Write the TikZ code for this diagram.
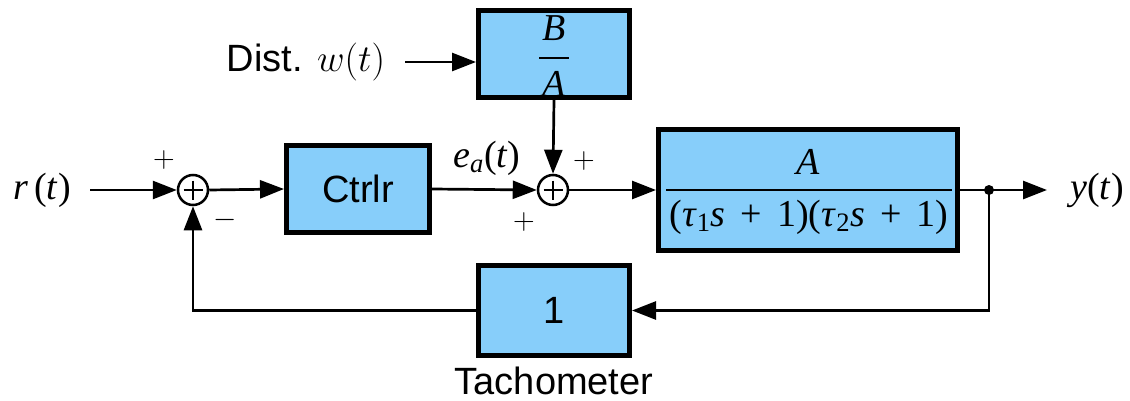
\documentclass[tikz,border=0pt]{standalone}
\usepackage{fix-cm}
\usepackage{fontspec}
\setmainfont{Liberation Sans}
\newfontfamily\tms{Liberation Serif}
\usetikzlibrary{arrows.meta,calc}
\definecolor{boxblue}{HTML}{87CEFA}
\begin{document}
\begin{tikzpicture}[x=1pt,y=-1pt,
  blk/.style={draw, line width=5pt, fill=boxblue, inner sep=0pt},
  sumc/.style={draw, circle, line width=2.5pt, minimum size=30pt, inner sep=0pt, fill=white,
    path picture={\draw[line width=1.4pt] ($(path picture bounding box.center)+(-9.5,0)$) -- ($(path picture bounding box.center)+(9.5,0)$);
                  \draw[line width=1.4pt] ($(path picture bounding box.center)+(0,-9.5)$) -- ($(path picture bounding box.center)+(0,9.5)$);}},
  arr/.style={line width=2.7pt, -{Triangle[length=24pt,width=18pt]}},
  ln/.style={line width=2.7pt},
  big/.style={font=\fontsize{38}{44}\selectfont, inner sep=0pt},
  mth/.style={font=\fontsize{38}{44}\selectfont\tms, inner sep=0pt},
  sgn/.style={font=\fontsize{30}{36}\selectfont, inner sep=0pt}]
\useasboundingbox (0,0) rectangle (1130,401);

% blocks
\node[blk, minimum width=151pt, minimum height=87pt] (ba) at (554,54) {};
\node[mth] (baB) at (554,28) {\textit{B}};
\node[mth] (baA) at (554,84) {\textit{A}};
\draw[line width=2.5pt] ($(ba.center)+(-15,4)$) -- ($(ba.center)+(15,4)$);

\node[blk, minimum width=143pt, minimum height=87pt, big] (ctrl) at (358,189) {Ctrlr};

\node[blk, minimum width=299pt, minimum height=121pt] (plant) at (808,190) {};
\node[mth] (plN) at (808,162) {\textit{A}};
\node[mth] (plD) at (809,217) {(\textit{τ}\textsubscript{1}\textit{s}\hspace{0.4em}+\hspace{0.4em}1)(\textit{τ}\textsubscript{2}\textit{s}\hspace{0.4em}+\hspace{0.4em}1)};
\draw[line width=2.7pt] ($(plant.center)+(-142,0)$) -- ($(plant.center)+(144,0)$);

\node[blk, minimum width=151pt, minimum height=90pt, big] (tach) at (554,310.5) {1};
\node[big] (tachl) at (554,381) {Tachometer};

% summing junctions
\node[sumc] (s1) at (193,190) {};
\node[sumc] (s2) at (553,190) {};

% labels
\node[mth] (rt) at (42,190) {\textit{r}\,(\textit{t})};
\node[mth] (yt) at (1097,190) {\textit{y}(\textit{t})};
\node[mth] (ea) at (487,158) {\textit{e}\textsubscript{\textit{a}}(\textit{t})};
\node[big] (dist) at (306,62) {Dist. $w(t)$};
\node[sgn] (p1) at (164,160) {$+$};
\node[sgn] (m1) at (225,220) {$-$};
\node[sgn] (p2) at (584,161) {$+$};
\node[sgn] (p3) at (524,222) {$+$};

% connectors
\coordinate (rin) at (90,190);
\coordinate (din) at (405,62);
\coordinate (dot) at (989,190);
\coordinate (yout) at (1047,190);
\draw[arr] (rin) -- (s1.west);
\draw[arr] (s1.east) -- (ctrl.west);
\draw[arr] (ctrl.east) -- (s2.west);
\draw[arr] (s2.east) -- (plant.west);
\draw[ln] (plant.east) -- (dot);
\draw[arr] (dot) -- (yout);
\fill (dot) circle (5pt);
\draw[arr] (dot) |- (tach.east);
\draw[arr] (tach.west) -| (s1.south);
\draw[arr] (ba.south) -- (s2.north);
\draw[arr] (din) -- (din -| ba.west);
\end{tikzpicture}
\end{document}
